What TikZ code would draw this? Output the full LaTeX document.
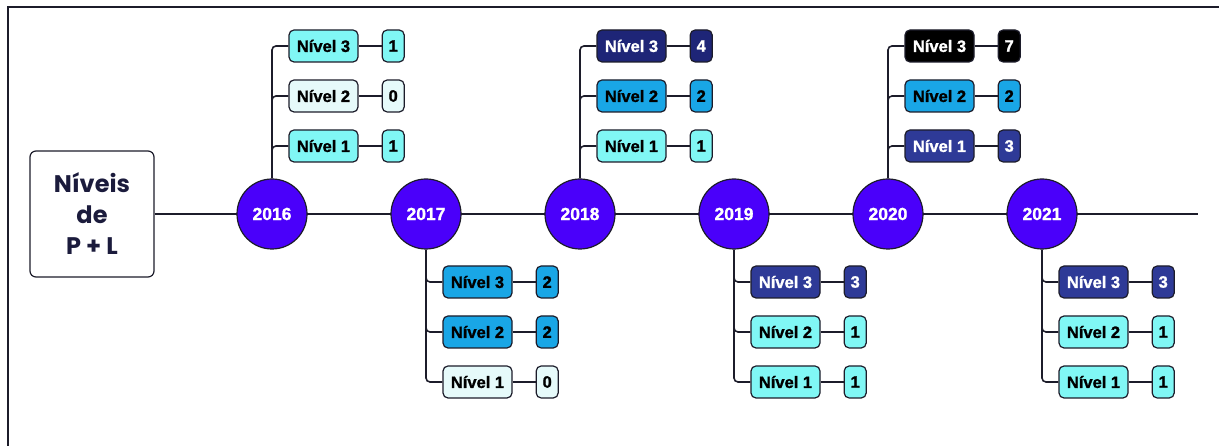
\documentclass[tikz,border=0pt]{standalone}
\usepackage{fontspec}
\setmainfont{Liberation Sans}
\newfontfamily\poppins{Poppins}
\newfontfamily\boxfont{Liberation Sans Bold}[FakeBold=1.2]
\usetikzlibrary{positioning}

\definecolor{yearfill}{HTML}{4A00FA}
\definecolor{edgecol}{HTML}{1C1C2A}
\definecolor{titletext}{HTML}{1B1B3C}
\definecolor{lvcyanc}{HTML}{80F7F5}
\definecolor{lvpalec}{HTML}{E6FAFA}
\definecolor{lvbluec}{HTML}{19A6E6}
\definecolor{lvnavyc}{HTML}{1E2577}
\definecolor{lvindigoc}{HTML}{2E3A97}

\begin{document}
\begin{tikzpicture}[x=1pt,y=1pt,node distance=154pt,line width=1.6pt,draw=edgecol,
    rounded corners=4pt]
  \tikzstyle{year}=[circle,fill=yearfill,draw=edgecol,line width=1.2pt,minimum size=70pt,
                    text=white,font=\boxfont\fontsize{17.5}{17}\selectfont]
  \tikzstyle{lvl}=[draw=edgecol,rounded corners=5pt,line width=1.2pt,minimum width=69pt,
                   minimum height=32pt,inner sep=2pt,font=\boxfont\fontsize{16.5}{16}\selectfont]
  \tikzstyle{num}=[lvl,minimum width=22pt]
  \tikzstyle{cyan}=[fill=lvcyanc,text=black]
  \tikzstyle{pale}=[fill=lvpalec,text=black]
  \tikzstyle{blue}=[fill=lvbluec,text=black]
  \tikzstyle{navy}=[fill=lvnavyc,text=white]
  \tikzstyle{indigo}=[fill=lvindigoc,text=white]
  \tikzstyle{dark}=[fill=black,text=white]

  \useasboundingbox (0,0) rectangle (1219,446);
  \draw[line width=2pt,sharp corners] (8,-5) |- (1230,439);

  \node[draw=edgecol,line width=1.2pt,rounded corners=6pt,minimum width=124pt,minimum height=126pt,
        align=center,text=titletext,font=\poppins\bfseries\fontsize{24}{31}\selectfont]
        (title) at (92,232) {Níveis\\de\\P + L};
  \coordinate (lineend) at (1198,232);
  \draw[sharp corners] (title) -- (lineend);

  \node[year] (y16) at (272,232) {2016};
  \node[year] (y17) [right of=y16] {2017};
  \node[year] (y18) [right of=y17] {2018};
  \node[year] (y19) [right of=y18] {2019};
  \node[year] (y20) [right of=y19] {2020};
  \node[year] (y21) [right of=y20] {2021};

  % 2016
  \node[lvl,cyan,xshift=51.5pt,yshift=168pt] (a3) at (y16) {Nível 3};
  \node[lvl,pale,xshift=51.5pt,yshift=118pt] (a2) at (y16) {Nível 2};
  \node[lvl,cyan,xshift=51.5pt,yshift=68pt]  (a1) at (y16) {Nível 1};
  \node[num,cyan,right=23pt of a3] (an3) {1};
  \node[num,pale,right=23pt of a2] (an2) {0};
  \node[num,cyan,right=23pt of a1] (an1) {1};

  % 2017
  \node[lvl,blue,xshift=51.5pt,yshift=-68pt]  (b3) at (y17) {Nível 3};
  \node[lvl,blue,xshift=51.5pt,yshift=-118pt] (b2) at (y17) {Nível 2};
  \node[lvl,pale,xshift=51.5pt,yshift=-168pt] (b1) at (y17) {Nível 1};
  \node[num,blue,right=23pt of b3] (bn3) {2};
  \node[num,blue,right=23pt of b2] (bn2) {2};
  \node[num,pale,right=23pt of b1] (bn1) {0};

  % 2018
  \node[lvl,navy,xshift=51.5pt,yshift=168pt] (c3) at (y18) {Nível 3};
  \node[lvl,blue,xshift=51.5pt,yshift=118pt] (c2) at (y18) {Nível 2};
  \node[lvl,cyan,xshift=51.5pt,yshift=68pt]  (c1) at (y18) {Nível 1};
  \node[num,navy,right=23pt of c3] (cn3) {4};
  \node[num,blue,right=23pt of c2] (cn2) {2};
  \node[num,cyan,right=23pt of c1] (cn1) {1};

  % 2019
  \node[lvl,indigo,xshift=51.5pt,yshift=-68pt] (d3) at (y19) {Nível 3};
  \node[lvl,cyan,xshift=51.5pt,yshift=-118pt]  (d2) at (y19) {Nível 2};
  \node[lvl,cyan,xshift=51.5pt,yshift=-168pt]  (d1) at (y19) {Nível 1};
  \node[num,indigo,right=23pt of d3] (dn3) {3};
  \node[num,cyan,right=23pt of d2]   (dn2) {1};
  \node[num,cyan,right=23pt of d1]   (dn1) {1};

  % 2020
  \node[lvl,dark,xshift=51.5pt,yshift=168pt]   (e3) at (y20) {Nível 3};
  \node[lvl,blue,xshift=51.5pt,yshift=118pt]   (e2) at (y20) {Nível 2};
  \node[lvl,indigo,xshift=51.5pt,yshift=68pt]  (e1) at (y20) {Nível 1};
  \node[num,dark,right=23pt of e3]   (en3) {7};
  \node[num,blue,right=23pt of e2]   (en2) {2};
  \node[num,indigo,right=23pt of e1] (en1) {3};

  % 2021
  \node[lvl,indigo,xshift=51.5pt,yshift=-68pt] (f3) at (y21) {Nível 3};
  \node[lvl,cyan,xshift=51.5pt,yshift=-118pt]  (f2) at (y21) {Nível 2};
  \node[lvl,cyan,xshift=51.5pt,yshift=-168pt]  (f1) at (y21) {Nível 1};
  \node[num,indigo,right=23pt of f3] (fn3) {3};
  \node[num,cyan,right=23pt of f2]   (fn2) {1};
  \node[num,cyan,right=23pt of f1]   (fn1) {1};

  % branches
  \draw (y16.north) |- (a3.west) (y16.north) |- (a2.west) (y16.north) |- (a1.west);
  \draw (y17.south) |- (b3.west) (y17.south) |- (b2.west) (y17.south) |- (b1.west);
  \draw (y18.north) |- (c3.west) (y18.north) |- (c2.west) (y18.north) |- (c1.west);
  \draw (y19.south) |- (d3.west) (y19.south) |- (d2.west) (y19.south) |- (d1.west);
  \draw (y20.north) |- (e3.west) (y20.north) |- (e2.west) (y20.north) |- (e1.west);
  \draw (y21.south) |- (f3.west) (y21.south) |- (f2.west) (y21.south) |- (f1.west);

  \path[draw] (a3) -- (an3) (a2) -- (an2) (a1) -- (an1)
              (b3) -- (bn3) (b2) -- (bn2) (b1) -- (bn1)
              (c3) -- (cn3) (c2) -- (cn2) (c1) -- (cn1)
              (d3) -- (dn3) (d2) -- (dn2) (d1) -- (dn1)
              (e3) -- (en3) (e2) -- (en2) (e1) -- (en1)
              (f3) -- (fn3) (f2) -- (fn2) (f1) -- (fn1);
\end{tikzpicture}
\end{document}
